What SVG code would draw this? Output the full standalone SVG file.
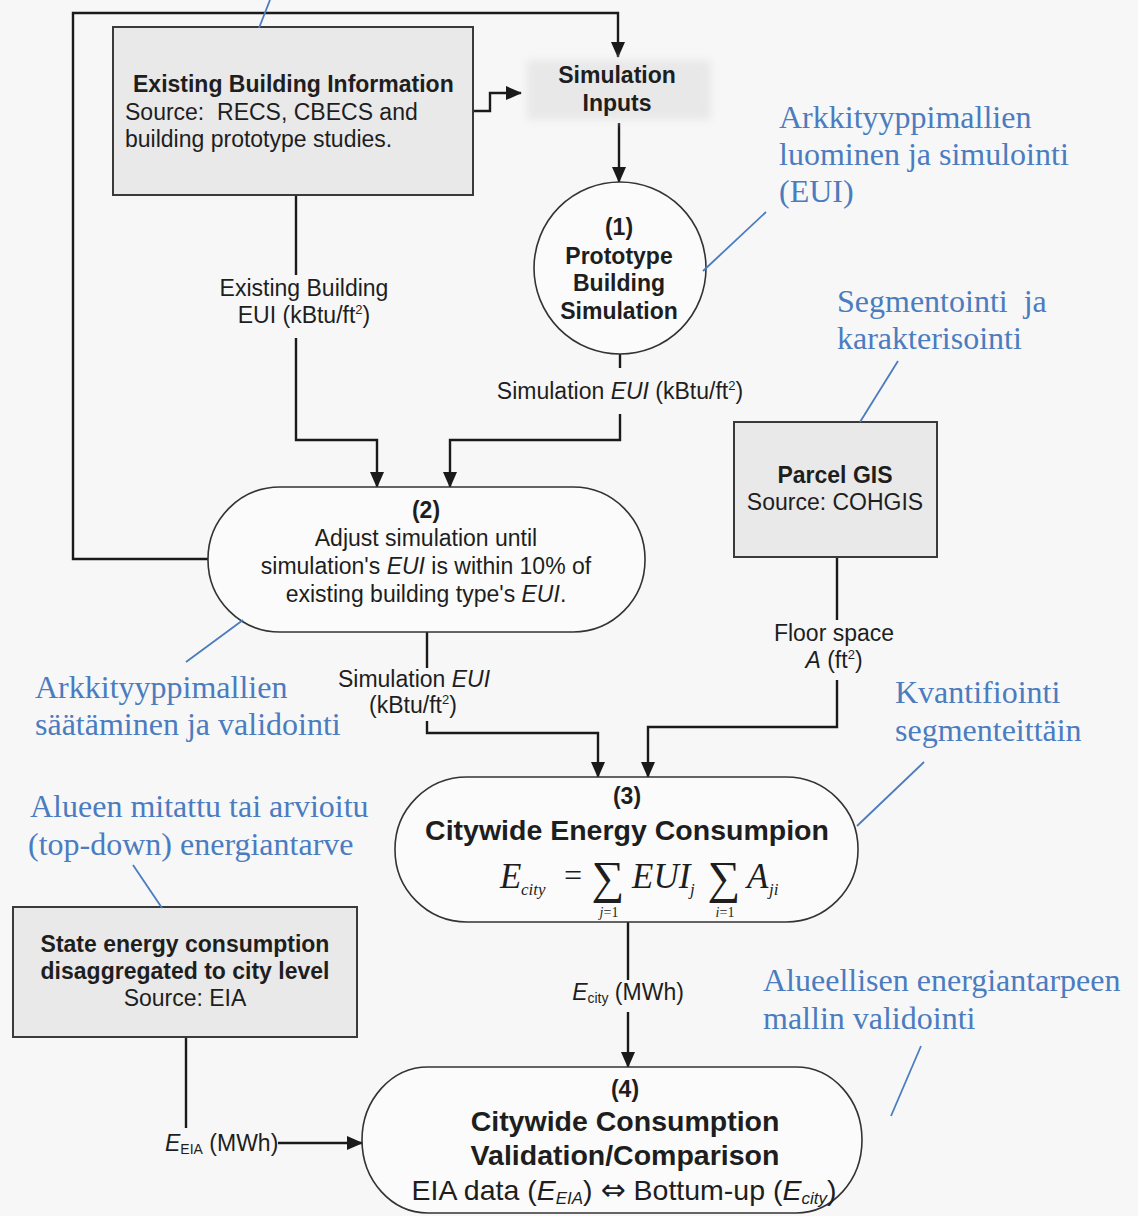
<svg xmlns="http://www.w3.org/2000/svg" width="1138" height="1216" viewBox="0 0 1138 1216">
  <defs>
    <marker id="arrow" viewBox="0 0 16 14" markerWidth="16" markerHeight="14" refX="15" refY="7" orient="auto" markerUnits="userSpaceOnUse">
      <path d="M0,0 L16,7 L0,14 z" fill="#1a1a1a"/>
    </marker>
    <filter id="soft" x="-10%" y="-20%" width="120%" height="140%">
      <feGaussianBlur stdDeviation="4"/>
    </filter>
    <style>
      .bg { fill: #f7f7f7; }
      .box { fill: #e9e9e9; stroke: #3a3a3a; stroke-width: 2; }
      .pill { fill: #fbfbfb; stroke: #333; stroke-width: 1.6; }
      .wire { fill: none; stroke: #1a1a1a; stroke-width: 2.4; }
      .lead { fill: none; stroke: #4a7cbf; stroke-width: 1.8; }
      text { font-family: "Liberation Sans", Arial, sans-serif; fill: #1e1e1e; }
      .t { font-size: 23px; }
      .b { font-size: 23px; font-weight: bold; }
      .h { font-size: 28.5px; font-weight: bold; }
      .c { text-anchor: middle; }
      .note { font-family: "Liberation Serif", "Times New Roman", serif; font-size: 32px; fill: #4a7cbf; }
      .m { font-family: "Liberation Serif", "Times New Roman", serif; font-style: italic; }
    </style>
  </defs>

  <rect class="bg" x="0" y="0" width="1138" height="1216"/>

  <!-- connectors -->
  <g id="connectors">
    <path class="wire" d="M208,559 H73 V13 H618 V57" marker-end="url(#arrow)"/>
    <path class="wire" d="M473,111 H490 V93 H521" marker-end="url(#arrow)"/>
    <path class="wire" d="M619,123 V182" marker-end="url(#arrow)"/>
    <path class="wire" d="M620,354 V368"/>
    <path class="wire" d="M620,414 V440 H450 V487" marker-end="url(#arrow)"/>
    <path class="wire" d="M296,195 V275"/>
    <path class="wire" d="M296,338 V440 H377 V487" marker-end="url(#arrow)"/>
    <path class="wire" d="M427,632 V668"/>
    <path class="wire" d="M427,721 V733 H598 V777" marker-end="url(#arrow)"/>
    <path class="wire" d="M837,557 V620"/>
    <path class="wire" d="M837,680 V727 H648 V777" marker-end="url(#arrow)"/>
    <path class="wire" d="M628,922 V980"/>
    <path class="wire" d="M628,1012 V1067" marker-end="url(#arrow)"/>
    <path class="wire" d="M186,1037 V1128"/>
    <path class="wire" d="M278,1143 H362" marker-end="url(#arrow)"/>
  </g>

  <!-- connector labels -->
  <g id="labels">
    <text class="t c" x="304" y="296">Existing Building</text>
    <text class="t c" x="304" y="323">EUI (kBtu/ft<tspan font-size="13" dy="-9">2</tspan><tspan dy="9">)</tspan></text>
    <text class="t c" x="620" y="399">Simulation <tspan font-style="italic">EUI</tspan> (kBtu/ft<tspan font-size="13" dy="-9">2</tspan><tspan dy="9">)</tspan></text>
    <text class="t c" x="414" y="687">Simulation <tspan font-style="italic">EUI</tspan></text>
    <text class="t c" x="413" y="713">(kBtu/ft<tspan font-size="13" dy="-9">2</tspan><tspan dy="9">)</tspan></text>
    <text class="t c" x="834" y="641">Floor space</text>
    <text class="t c" x="834" y="668"><tspan font-style="italic">A</tspan> (ft<tspan font-size="13" dy="-9">2</tspan><tspan dy="9">)</tspan></text>
    <text class="t c" x="628" y="1000"><tspan font-style="italic">E</tspan><tspan font-size="14" dy="3">city</tspan><tspan dy="-3"> (MWh)</tspan></text>
    <text class="t" x="165" y="1151"><tspan font-style="italic">E</tspan><tspan font-size="14" dy="3">EIA</tspan><tspan dy="-3"> (MWh)</tspan></text>
  </g>

  <!-- source: existing buildings -->
  <g id="existing-info">
    <rect class="box" x="113" y="27" width="360" height="168"/>
    <text class="b" x="133" y="92">Existing Building Information</text>
    <text class="t" x="125" y="120" xml:space="preserve">Source:  RECS, CBECS and</text>
    <text class="t" x="125" y="147">building prototype studies.</text>
  </g>

  <!-- simulation inputs -->
  <g id="sim-inputs">
    <rect x="527" y="60" width="184" height="60" fill="#e8e8e8" filter="url(#soft)"/>
    <text class="b c" x="617" y="83">Simulation</text>
    <text class="b c" x="617" y="111">Inputs</text>
  </g>

  <!-- step 1 -->
  <g id="step1">
    <circle class="pill" cx="620" cy="268" r="86"/>
    <text class="b c" x="619" y="235">(1)</text>
    <text class="b c" x="619" y="264">Prototype</text>
    <text class="b c" x="619" y="291">Building</text>
    <text class="b c" x="619" y="319">Simulation</text>
  </g>

  <!-- step 2 -->
  <g id="step2">
    <rect class="pill" x="208" y="487" width="437" height="145" rx="72" ry="72"/>
    <text class="b c" x="426" y="518">(2)</text>
    <text class="t c" x="426" y="546">Adjust simulation until</text>
    <text class="t c" x="426" y="574">simulation's <tspan font-style="italic">EUI</tspan> is within 10% of</text>
    <text class="t c" x="426" y="602">existing building type's <tspan font-style="italic">EUI</tspan>.</text>
  </g>

  <!-- parcel data -->
  <g id="parcel-gis">
    <rect class="box" x="734" y="422" width="203" height="135"/>
    <text class="b c" x="835" y="483">Parcel GIS</text>
    <text class="t c" x="835" y="510">Source: COHGIS</text>
  </g>

  <!-- step 3 -->
  <g id="step3">
    <rect class="pill" x="395" y="777" width="463" height="145" rx="72" ry="72"/>
    <text class="b c" x="627" y="804">(3)</text>
    <text class="h c" x="627" y="840">Citywide Energy Consumpion</text>
    <g id="formula">
      <text class="m" x="500" y="888" font-size="35">E</text>
      <text class="m" x="521" y="895" font-size="17">city</text>
      <text class="m" x="562" y="886" font-size="32" font-style="normal">=</text>
      <text class="m c" x="608" y="893" font-size="46" font-style="normal">∑</text>
      <text class="m" x="632" y="888" font-size="35">EUI</text>
      <text class="m" x="690" y="895" font-size="17">j</text>
      <text class="m c" x="724" y="893" font-size="46" font-style="normal">∑</text>
      <text class="m" x="747" y="888" font-size="35">A</text>
      <text class="m" x="769" y="895" font-size="17">ji</text>
      <text class="m c" x="609" y="917" font-size="14">j<tspan font-style="normal">=1</tspan></text>
      <text class="m c" x="725" y="917" font-size="14">i<tspan font-style="normal">=1</tspan></text>
    </g>
  </g>

  <!-- state data -->
  <g id="state-energy">
    <rect class="box" x="13" y="907" width="344" height="130"/>
    <text class="b c" x="185" y="952">State energy consumption</text>
    <text class="b c" x="185" y="979">disaggregated to city level</text>
    <text class="t c" x="185" y="1006">Source: EIA</text>
  </g>

  <!-- step 4 -->
  <g id="step4">
    <rect class="pill" x="362" y="1067" width="500" height="146" rx="66" ry="73"/>
    <text class="b c" x="625" y="1097">(4)</text>
    <text class="h c" x="625" y="1131">Citywide Consumption</text>
    <text class="h c" x="625" y="1165">Validation/Comparison</text>
    <text class="c" x="624" y="1200" font-size="28.5">EIA data (<tspan font-style="italic">E</tspan><tspan font-style="italic" font-size="17" dy="4">EIA</tspan><tspan dy="-4">) </tspan><tspan font-family="'DejaVu Sans', sans-serif" font-size="30">⇔</tspan> Bottum-up (<tspan font-style="italic">E</tspan><tspan font-style="italic" font-size="17" dy="4">city</tspan><tspan dy="-4">)</tspan></text>
  </g>

  <!-- annotations -->
  <g id="notes">
    <path class="lead" d="M259,28 L270,0"/>
    <text class="note" x="779" y="128">Arkkityyppimallien</text>
    <text class="note" x="779" y="165">luominen ja simulointi</text>
    <text class="note" x="779" y="202">(EUI)</text>
    <path class="lead" d="M766,212 L703,271"/>

    <text class="note" x="837" y="312" xml:space="preserve">Segmentointi  ja</text>
    <text class="note" x="837" y="349">karakterisointi</text>
    <path class="lead" d="M898,361 L860,422"/>

    <text class="note" x="35" y="698">Arkkityyppimallien</text>
    <text class="note" x="35" y="735">säätäminen ja validointi</text>
    <path class="lead" d="M186,662 L243,620"/>

    <text class="note" x="895" y="703">Kvantifiointi</text>
    <text class="note" x="895" y="741">segmenteittäin</text>
    <path class="lead" d="M924,762 L857,826"/>

    <text class="note" x="30" y="817">Alueen mitattu tai arvioitu</text>
    <text class="note" x="28" y="855">(top-down) energiantarve</text>
    <path class="lead" d="M133,865 L162,908"/>

    <text class="note" x="763" y="991">Alueellisen energiantarpeen</text>
    <text class="note" x="763" y="1029">mallin validointi</text>
    <path class="lead" d="M921,1046 L891,1116"/>
  </g>
</svg>
